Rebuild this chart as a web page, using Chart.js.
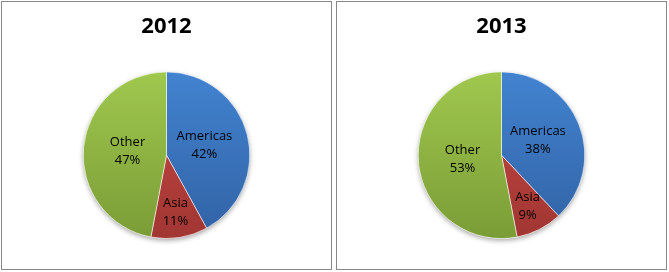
<!DOCTYPE html>
<html>
<head>
<meta charset="utf-8">
<script src="https://cdn.jsdelivr.net/npm/chart.js@4"></script>
<style>
  html, body { margin: 0; padding: 0; background: #fff; }
  body { width: 669px; height: 272px; position: relative; overflow: hidden; }
  .box { position: absolute; top: 1px; width: 329px; height: 267px; border: 1px solid #888; }
  #box1 { left: 1px; }
  #box2 { left: 336px; }
</style>
</head>
<body>
<div class="box" id="box1"><canvas id="pie2012" width="329" height="267"></canvas></div>
<div class="box" id="box2"><canvas id="pie2013" width="329" height="267"></canvas></div>
<script>
const regions = ['Americas', 'Asia', 'Other'];
const share2012 = [42, 11, 47];
const share2013 = [38, 9, 53];

// top / bottom of the vertical gradient for each slice
const colTop = ['#4283d0', '#c84844', '#a0c84e'];
const colBottom = ['#3162a4', '#a13632', '#7a9c36'];

function fillFor(ctx) {
  const chart = ctx.chart;
  const i = ctx.dataIndex;
  const area = chart.chartArea;
  if (!area) return colTop[i];
  const g = chart.ctx.createLinearGradient(0, area.top, 0, area.bottom);
  g.addColorStop(0, colTop[i]);
  g.addColorStop(1, colBottom[i]);
  return g;
}

// soft shadow under the pie
const pieShadow = {
  id: 'pieShadow',
  beforeDatasetsDraw(chart) {
    const arc = chart.getDatasetMeta(0).data[0];
    if (!arc) return;
    const c = chart.ctx;
    c.save();
    c.shadowColor = 'rgba(0,0,0,0.35)';
    c.shadowBlur = 5;
    c.shadowOffsetY = 2;
    c.fillStyle = '#fff';
    c.beginPath();
    c.arc(arc.x, arc.y, arc.outerRadius, 0, Math.PI * 2);
    c.fill();
    c.restore();
  }
};

// labels inside the slices: name + percent
const sliceLabels = {
  id: 'sliceLabels',
  afterDatasetsDraw(chart) {
    const c = chart.ctx;
    const vals = chart.data.datasets[0].data;
    const total = vals.reduce((a, b) => a + b, 0);
    c.save();
    c.font = '13px "Open Sans", sans-serif';
    c.fillStyle = '#000';
    c.textAlign = 'center';
    c.textBaseline = 'middle';
    chart.getDatasetMeta(0).data.forEach((arc, i) => {
      const span = arc.endAngle - arc.startAngle;
      const mid = (arc.startAngle + arc.endAngle) / 2;
      const f = span < 0.9 ? 0.69 : 0.47;
      const x = arc.x + Math.cos(mid) * arc.outerRadius * f;
      const y = arc.y + Math.sin(mid) * arc.outerRadius * f;
      c.fillText(chart.data.labels[i], x, y - 9);
      c.fillText(Math.round(vals[i] / total * 100) + '%', x, y + 9);
    });
    c.restore();
  }
};

function makePie(id, title, values) {
  new Chart(document.getElementById(id), {
    type: 'pie',
    data: {
      labels: regions,
      datasets: [{
        data: values,
        backgroundColor: fillFor,
        borderColor: 'rgba(255,255,255,0.55)',
        borderWidth: 1,
        hoverOffset: 0
      }]
    },
    options: {
      responsive: false,
      animation: false,
      layout: { padding: { bottom: 30 } },
      plugins: {
        legend: { display: false },
        tooltip: { enabled: false },
        title: {
          display: true,
          text: title,
          color: '#000',
          padding: { top: 12, bottom: 31 },
          font: { family: '"Open Sans", sans-serif', size: 22, weight: 'bold' }
        }
      }
    },
    plugins: [pieShadow, sliceLabels]
  });
}

makePie('pie2012', '2012', share2012);
makePie('pie2013', '2013', share2013);
</script>
</body>
</html>
